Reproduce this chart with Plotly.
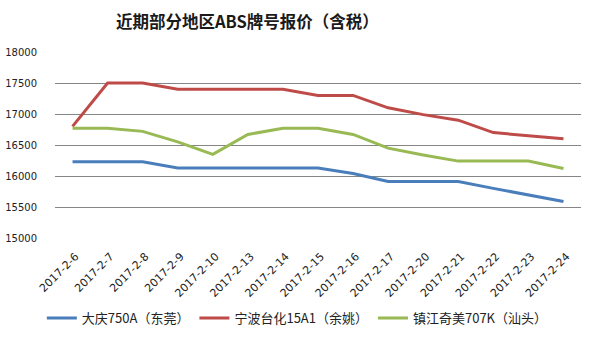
import plotly.graph_objects as go

dates = ["2017-2-6", "2017-2-7", "2017-2-8", "2017-2-9", "2017-2-10", "2017-2-13",
         "2017-2-14", "2017-2-15", "2017-2-16", "2017-2-17", "2017-2-20", "2017-2-21",
         "2017-2-22", "2017-2-23", "2017-2-24"]

daqing_750a = [16230, 16230, 16230, 16130, 16130, 16130, 16130, 16130, 16040,
               15910, 15910, 15910, 15800, 15700, 15590]
ningbo_15a1 = [16800, 17500, 17500, 17400, 17400, 17400, 17400, 17300, 17300,
               17100, 16990, 16900, 16700, 16650, 16600]
zhenjiang_707k = [16770, 16770, 16720, 16550, 16350, 16670, 16770, 16770, 16670,
                  16450, 16340, 16240, 16240, 16240, 16120]

series_names = ["大庆750A（东莞）", "宁波台化15A1（余姚）", "镇江奇美707K（汕头）"]
series_colors = ["#4A7EBB", "#BE4B48", "#98B954"]

fig = go.Figure()
for name, vals, color in zip(series_names, [daqing_750a, ningbo_15a1, zhenjiang_707k], series_colors):
    fig.add_trace(go.Scatter(x=dates, y=vals, mode="lines", name=name,
                             line=dict(color=color, width=3)))

font_main = "Noto Sans CJK SC, DejaVu Sans, sans-serif"

fig.update_layout(
    width=596, height=339,
    margin=dict(l=55, r=15, t=52, b=101, autoexpand=False),
    paper_bgcolor="white", plot_bgcolor="white",
    title=dict(text="<b>近期部分地区ABS牌号报价（含税）</b>", x=0.415, xanchor="center",
               y=0.935, yanchor="middle",
               font=dict(family=font_main, size=16.5, color="#1a1a1a")),
    xaxis=dict(type="category", range=[-0.5, len(dates) - 0.5], tickangle=-45,
               showgrid=False, showline=False, ticks="", automargin=False,
               ticklabelshift=3, ticklabelstandoff=9,
               tickfont=dict(family="DejaVu Sans, sans-serif", size=11, color="#222222")),
    yaxis=dict(range=[15000, 18000], dtick=500, tickformat="d", showgrid=True,
               gridcolor="#868686", gridwidth=1, zeroline=False, showline=False,
               ticks="", ticklabelstandoff=17, automargin=False,
               tickfont=dict(family="DejaVu Sans, sans-serif", size=10, color="#222222")),
    legend=dict(orientation="h", x=-0.025, xanchor="left", y=-0.43, yanchor="middle",
                itemwidth=30, font=dict(family=font_main, size=13, color="#222222")),
    showlegend=True,
)

fig.write_html("out.html")
